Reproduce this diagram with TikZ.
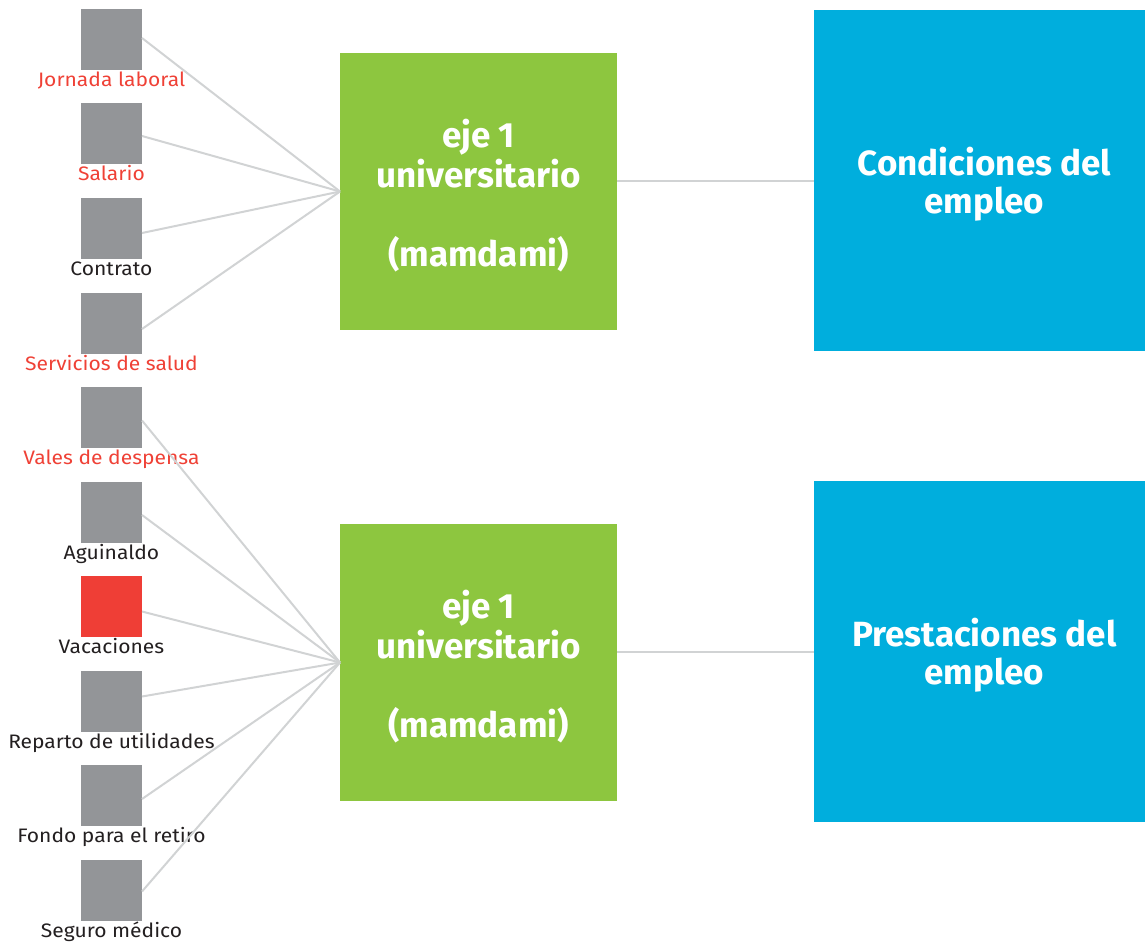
\documentclass[tikz,border=0pt]{standalone}
\usepackage{fontspec}
\setmainfont{Fira Sans}
\newfontfamily\lblfont[FakeStretch=1.08]{Fira Sans}
\definecolor{sqgray}{HTML}{939598}
\definecolor{sqred}{HTML}{EF3E36}
\definecolor{lblred}{HTML}{EF4136}
\definecolor{lbldark}{HTML}{231F20}
\definecolor{boxgreen}{HTML}{8DC63F}
\definecolor{boxblue}{HTML}{00AEDD}
\definecolor{linkgray}{HTML}{D1D3D4}
\tikzset{
  sq/.style={rectangle, draw=none, fill=sqgray, minimum width=61pt, minimum height=61pt, inner sep=0pt, outer sep=0pt},
  sqhot/.style={sq, fill=sqred},
  lbl/.style={anchor=base, inner sep=0pt, font=\lblfont\fontsize{19.5}{22}\selectfont, text=lbldark},
  lblhot/.style={lbl, text=lblred},
  gbox/.style={rectangle, fill=boxgreen, minimum width=277pt, minimum height=277pt, inner sep=0pt, outer sep=0pt},
  gtext/.style={align=center, text=white, inner sep=0pt, font=\fontsize{35}{40}\selectfont\bfseries},
  bbox/.style={rectangle, fill=boxblue, minimum width=341pt, minimum height=341pt, inner sep=0pt, outer sep=0pt},
  btext/.style={align=center, text=white, inner sep=0pt, font=\fontsize{35}{38}\selectfont\bfseries},
  link/.style={draw=linkgray, line width=2pt}
}
\begin{document}
\begin{tikzpicture}[x=1pt, y=-1pt]
\useasboundingbox (0,0) rectangle (1145,942);
\clip (0,0) rectangle (1145,942);
% big boxes
\node[gbox] (g1) at (478.5,191.5) {};
\node[gbox] (g2) at (478.5,662.5) {};
\node[bbox] (b1) at (984.5,180.5) {};
\node[bbox] (b2) at (984.5,651.5) {};
\node[gtext, yshift=-4pt] (g1t) at (g1.center) {eje 1\\universitario\\[39pt](mamdami)};
\node[gtext, yshift=-4pt] (g2t) at (g2.center) {eje 1\\universitario\\[39pt](mamdami)};
\node[btext, yshift=-3.5pt] (b1t) at (b1.center) {Condiciones del\\empleo};
\node[btext, yshift=-3.5pt] (b2t) at (b2.center) {Prestaciones del\\empleo};
% small squares
\node[sq] (s1) at (111.5,39.5) {};
\node[sq] (s2) at (111.5,133.5) {};
\node[sq] (s3) at (111.5,228.5) {};
\node[sq] (s4) at (111.5,323.5) {};
\node[sq] (s5) at (111.5,417.5) {};
\node[sq] (s6) at (111.5,512.5) {};
\node[sqhot] (s7) at (111.5,606.5) {};
\node[sq] (s8) at (111.5,701.5) {};
\node[sq] (s9) at (111.5,795.5) {};
\node[sq] (s10) at (111.5,890.5) {};
% labels
\node[lblhot] (l1) at ([yshift=-16pt]s1.south) {Jornada laboral};
\node[lblhot] (l2) at ([yshift=-16pt]s2.south) {Salario};
\node[lbl] (l3) at ([yshift=-16pt]s3.south) {Contrato};
\node[lblhot] (l4) at ([yshift=-16pt]s4.south) {Servicios de salud};
\node[lblhot] (l5) at ([yshift=-16pt]s5.south) {Vales de despensa};
\node[lbl] (l6) at ([yshift=-16pt]s6.south) {Aguinaldo};
\node[lbl] (l7) at ([yshift=-16pt]s7.south) {Vacaciones};
\node[lbl] (l8) at ([yshift=-16pt]s8.south) {Reparto de utilidades};
\node[lbl] (l9) at ([yshift=-16pt]s9.south) {Fondo para el retiro};
\node[lbl] (l10) at ([yshift=-16pt]s10.south) {Seguro médico};
% connectors
\draw[link] ([yshift=1.5pt]s1.east) -- (g1.west);
\draw[link] ([yshift=-2.5pt]s2.east) -- (g1.west);
\draw[link] ([yshift=-4.5pt]s3.east) -- (g1.west);
\draw[link] ([yshift=-5.5pt]s4.east) -- (g1.west);
\draw[link] ([yshift=-3pt]s5.east) -- (g2.west);
\draw[link] ([yshift=-2.5pt]s6.east) -- (g2.west);
\draw[link] ([yshift=-5pt]s7.east) -- (g2.west);
\draw[link] ([yshift=5pt]s8.east) -- (g2.west);
\draw[link] ([yshift=-3.5pt]s9.east) -- (g2.west);
\draw[link] ([yshift=-1pt]s10.east) -- (g2.west);
\draw[link] (g1.east |- b1.west) -- (b1.west);
\draw[link] (g2.east |- b2.west) -- (b2.west);
\end{tikzpicture}
\end{document}
